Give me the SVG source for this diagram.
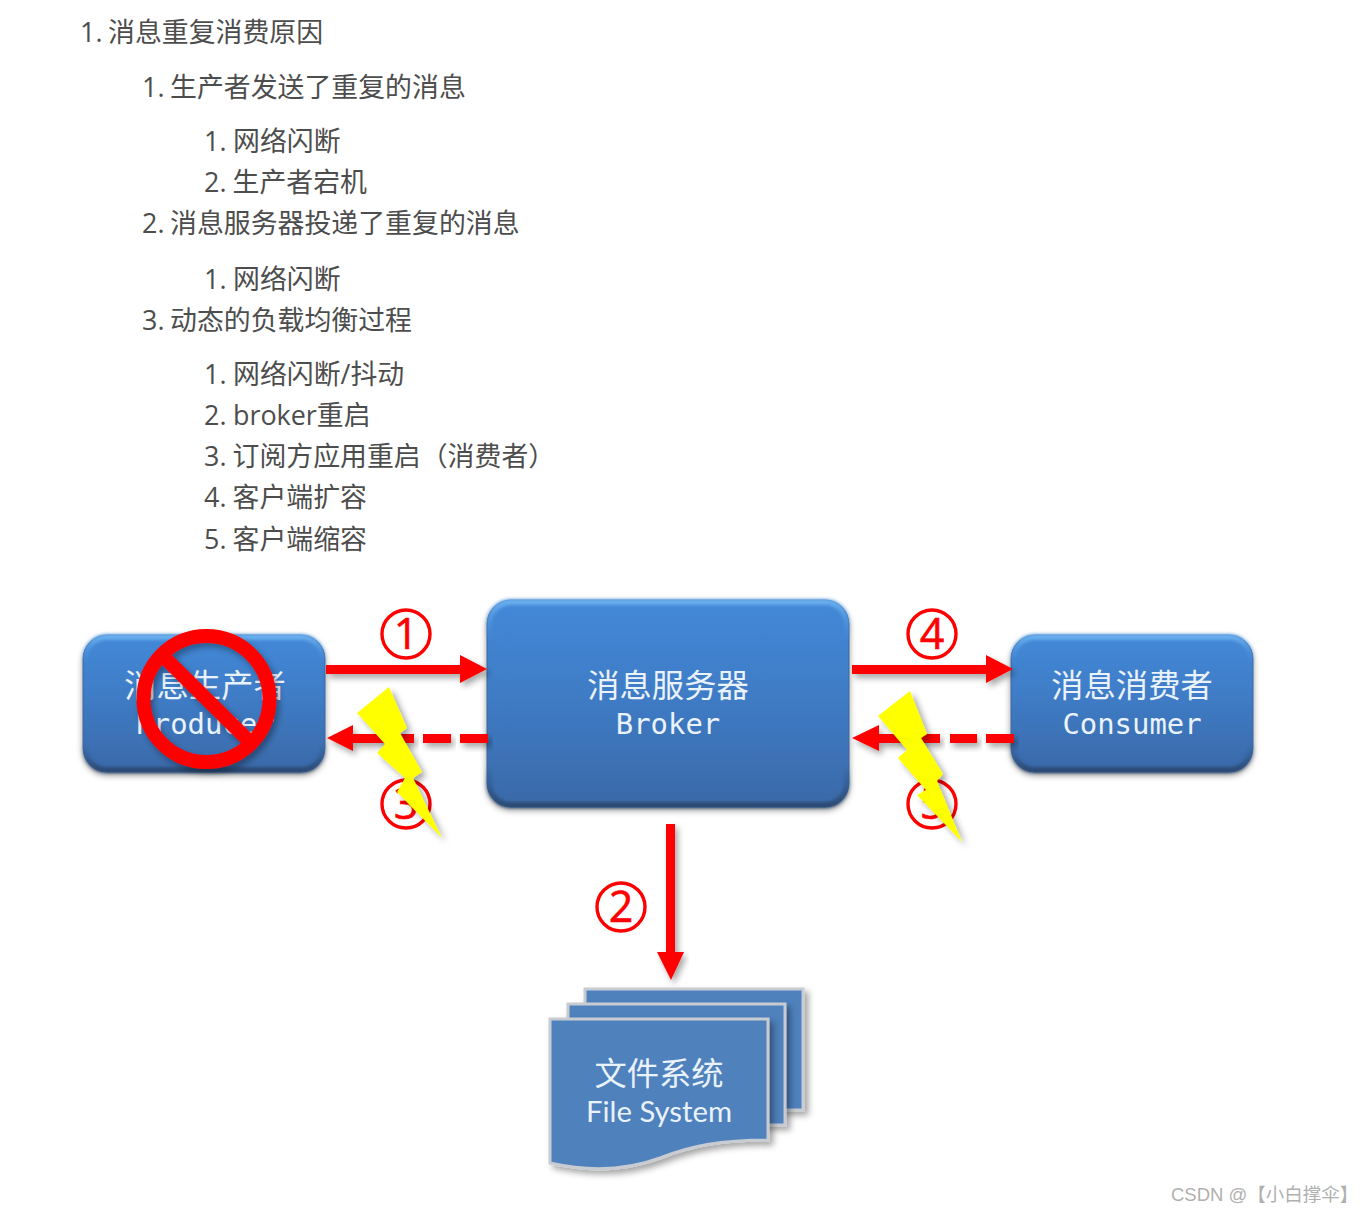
<svg xmlns="http://www.w3.org/2000/svg" width="1366" height="1213" viewBox="0 0 1366 1213">
<style>
.li{font-family:"Open Sans","Noto Sans CJK SC",sans-serif;font-size:26.900px;fill:#4d4d4d}
.w{fill:#eaf2fb;text-anchor:middle}
.cn{font-family:"Noto Sans CJK SC",sans-serif;font-size:32.300px}
.mono{font-family:"DejaVu Sans Mono","Noto Sans CJK SC",monospace;font-size:28.900px}
.num{font-family:"Open Sans",sans-serif;font-size:43px;fill:#f00;stroke:#f00;stroke-width:.6;text-anchor:middle}
.ring{fill:#fff;stroke:#f00;stroke-width:3.400}
.box{fill:url(#bv);stroke:#3c6496;stroke-width:1;filter:url(#sh)}
.glow{fill:none;stroke:url(#edge);stroke-width:6;filter:url(#bl)}
.page{fill:#4f81bd;stroke:#c8ccd2;stroke-width:3;filter:url(#sh2)}
.bolt{fill:#ff0;filter:url(#sh2)}
.ar{fill:#f00;filter:url(#sh3)}
</style>
<defs>
<linearGradient id="bv" x1="0" y1="0" x2="0" y2="1"><stop offset="0" stop-color="#4389d8"/><stop offset=".45" stop-color="#3f7cc6"/><stop offset="1" stop-color="#3a69a8"/></linearGradient>
<linearGradient id="edge" x1="0" y1="0" x2="0" y2="1"><stop offset="0" stop-color="#6aaeee"/><stop offset=".2" stop-color="#4389d8" stop-opacity="0"/><stop offset=".8" stop-color="#2f5688" stop-opacity="0"/><stop offset="1" stop-color="#2b4a72"/></linearGradient>
<filter id="sh" x="-10%" y="-10%" width="120%" height="125%"><feDropShadow dx="0" dy="3" stdDeviation="3" flood-color="#000" flood-opacity=".4"/></filter>
<filter id="sh2" x="-15%" y="-15%" width="135%" height="135%"><feDropShadow dx="4" dy="4" stdDeviation="3" flood-color="#000" flood-opacity=".35"/></filter>
<filter id="sh3" x="-15%" y="-50%" width="130%" height="250%"><feDropShadow dx="3" dy="4" stdDeviation="3" flood-color="#000" flood-opacity=".35"/></filter>
<filter id="bl" x="-5%" y="-5%" width="110%" height="110%"><feGaussianBlur stdDeviation="1.5"/></filter>
</defs>
<rect width="1366" height="1213" fill="#fff"/>

<g id="outline">
<text class="li" y="42"><tspan x="80">1.</tspan><tspan x="108">消息重复消费原因</tspan></text>
<text class="li" y="97"><tspan x="142">1.</tspan><tspan x="170">生产者发送了重复的消息</tspan></text>
<text class="li" y="151"><tspan x="204">1.</tspan><tspan x="233">网络闪断</tspan></text>
<text class="li" y="192"><tspan x="204">2.</tspan><tspan x="232.500">生产者宕机</tspan></text>
<text class="li" y="233"><tspan x="142">2.</tspan><tspan x="170">消息服务器投递了重复的消息</tspan></text>
<text class="li" y="289"><tspan x="204">1.</tspan><tspan x="233">网络闪断</tspan></text>
<text class="li" y="330"><tspan x="142">3.</tspan><tspan x="170">动态的负载均衡过程</tspan></text>
<text class="li" y="384"><tspan x="204">1.</tspan><tspan x="233">网络闪断/抖动</tspan></text>
<text class="li" y="425"><tspan x="204">2.</tspan><tspan x="233">broker重启</tspan></text>
<text class="li" y="466"><tspan x="204">3.</tspan><tspan x="232.500">订阅方应用重启（消费者）</tspan></text>
<text class="li" y="507"><tspan x="204">4.</tspan><tspan x="232.500">客户端扩容</tspan></text>
<text class="li" y="549"><tspan x="204">5.</tspan><tspan x="232.500">客户端缩容</tspan></text>
</g>

<g id="labels-under">
<g id="badge-3-left"><circle class="ring" cx="406" cy="804" r="24"/><text class="num" x="406" y="819">3</text></g>
<g id="badge-5-right"><circle class="ring" cx="932" cy="804" r="24"/><text class="num" x="932" y="819">5</text></g>
</g>

<g id="producer">
<rect class="box" x="83" y="635" width="242" height="137" rx="24"/>
<rect class="glow" x="85" y="637" width="238" height="133" rx="22"/>
<text class="w cn" x="205" y="697">消息生产者</text>
<text class="w mono" x="205" y="734">Producer</text>
</g>
<g id="broker">
<rect class="box" x="487" y="600" width="362" height="207" rx="24"/>
<rect class="glow" x="489" y="602" width="358" height="203" rx="22"/>
<text class="w cn" x="668" y="697">消息服务器</text>
<text class="w mono" x="668" y="734">Broker</text>
</g>
<g id="consumer">
<rect class="box" x="1011" y="635" width="242" height="137" rx="24"/>
<rect class="glow" x="1013" y="637" width="238" height="133" rx="22"/>
<text class="w cn" x="1132" y="697">消息消费者</text>
<text class="w mono" x="1132" y="734">Consumer</text>
</g>

<g id="connectors">
<path class="ar" d="M326 665H460V655L487 669L460 683V674H326Z"/>
<path class="ar" d="M852 665H986V655L1013 669L986 683V674H852Z"/>
<path class="ar" d="M327 738L353 725V734H386V743H353V751Z"/>
<rect class="ar" x="386" y="734" width="28" height="9"/><rect class="ar" x="423" y="734" width="28" height="9"/><rect class="ar" x="460" y="734" width="28" height="9"/>
<path class="ar" d="M852 738L879 725V734H912V743H879V751Z"/>
<rect class="ar" x="912" y="734" width="28" height="9"/><rect class="ar" x="950" y="734" width="27" height="9"/><rect class="ar" x="986" y="734" width="28" height="9"/>
<path class="ar" d="M666 824H675V952H684L671 980L657 952H666Z"/>
</g>

<g id="file-system">
<path class="page" d="M585 989H803V1110H585Z"/>
<path class="page" d="M568 1004H785V1125H568Z"/>
<path class="page" d="M550 1019H768V1140C720 1140 690 1146 660 1158C625 1171 590 1172 550 1163Z"/>
<text class="w cn" x="659" y="1085">文件系统</text>
<text class="w" x="659" y="1122" font-family="Lato,'Open Sans',sans-serif" font-size="29.300px">File System</text>
</g>

<g id="badges">
<g id="badge-1"><circle class="ring" cx="406" cy="634" r="24"/><text class="num" x="406" y="649">1</text></g>
<g id="badge-4"><circle class="ring" cx="932" cy="634" r="24"/><text class="num" x="932" y="649">4</text></g>
<g id="badge-2"><circle class="ring" cx="621" cy="907" r="24"/><text class="num" x="621" y="922">2</text></g>
</g>

<g id="prohibit" fill="none" stroke="#f00" stroke-width="14" filter="url(#sh3)">
<circle cx="206.500" cy="699" r="63"/>
<path d="M161 654L252 744"/>
</g>

<g id="bolts">
<polygon class="bolt" points="389,687 407,728 400,733 422,772 413,778 442,838 397,792 405,778 377,753 385,744 357,713"/>
<polygon class="bolt" points="910,691 927,734 921,738 943,774 937,781 962,842 917,795 926,790 898,758 907,750 878,716"/>
</g>

<text id="watermark" x="1171" y="1201" font-family="'Liberation Sans','Noto Sans CJK SC',sans-serif" font-size="18.500px" fill="#b0b0b0">CSDN @【小白撑伞】</text>
</svg>
